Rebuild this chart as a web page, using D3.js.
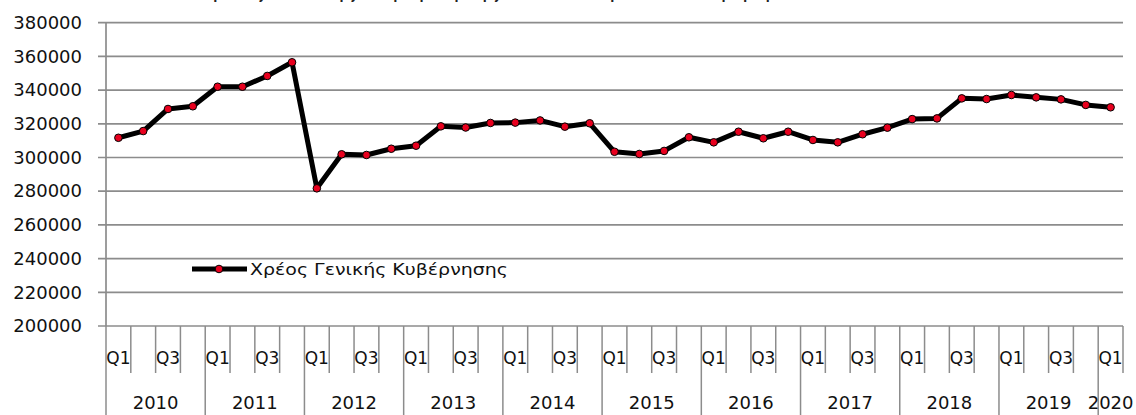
<!DOCTYPE html>
<html>
<head>
<meta charset="utf-8">
<script src="https://cdn.jsdelivr.net/npm/d3@7"></script>
<style>
  body { margin: 0; background: #fff; }
  svg { display: block; font-family: "DejaVu Sans", sans-serif; }
</style>
</head>
<body>
<div id="chart"></div>
<script>
const width = 1136;
const height = 415;

// data
const years = ['2010', '2011', '2012', '2013', '2014', '2015', '2016', '2017', '2018', '2019', '2020'];
const quarters = ['Q1', 'Q2', 'Q3', 'Q4'];
const shownQuarters = ['Q1', 'Q3'];
const lastYearQuarters = 1;
const yTicks = [200000, 220000, 240000, 260000, 280000, 300000, 320000, 340000, 360000, 380000];
const seriesName = 'Χρέος Γενικής Κυβέρνησης';
const debt = [
  311700, 315700, 328800, 330400,
  342000, 342000, 348400, 356500,
  281700, 301900, 301500, 305200,
  307000, 318500, 317800, 320500,
  320700, 322000, 318300, 320300,
  303400, 302100, 303900, 312000,
  309000, 315300, 311400, 315300,
  310400, 309000, 313800, 317700,
  322800, 323200, 335100, 334700,
  337100, 335700, 334500, 331200,
  329800
];

// build the category list (year + quarter)
const categories = [];
years.forEach((yr, yi) => {
  const qs = yi === years.length - 1 ? quarters.slice(0, lastYearQuarters) : quarters;
  qs.forEach((q) => categories.push({key: yr + '-' + q, year: yr, q: q}));
});
const points = categories.map((c, i) => ({...c, value: debt[i]}));

const plot = {left: 106, right: 1123, top: 22.7, bottom: 326};
const qTickBottom = 373;

const svg = d3.select('#chart').append('svg')
  .attr('width', width)
  .attr('height', height);

const x = d3.scaleBand()
  .domain(categories.map((c) => c.key))
  .range([plot.left, plot.right])
  .padding(0);

const y = d3.scaleLinear()
  .domain([200000, 380000])
  .range([plot.bottom, plot.top]);

// title (mostly cut off at the top edge, as in the source picture)
svg.append('text')
  .attr('x', 572)
  .attr('y', -2)
  .attr('text-anchor', 'middle')
  .attr('font-size', 18)
  .attr('textLength', 750)
  .attr('lengthAdjust', 'spacingAndGlyphs')
  .attr('fill', '#222')
  .text('Χρέος Γενικής Κυβέρνησης (εκατ. ευρώ) ανά τρίμηνο, 2010 - 2020');

// horizontal gridlines
svg.append('g').selectAll('line')
  .data(yTicks)
  .join('line')
  .attr('x1', plot.left - 8)
  .attr('x2', plot.right)
  .attr('y1', (d) => y(d))
  .attr('y2', (d) => y(d))
  .attr('stroke', '#8c8c8c')
  .attr('stroke-width', 1.7);

// y axis labels
const yaxis = d3.axisLeft(y)
  .tickValues(yTicks)
  .tickFormat(d3.format('d'))
  .tickSize(8)
  .tickPadding(16);
const g_yaxis = svg.append('g')
  .attr('transform', `translate(${plot.left},0)`)
  .call(yaxis);
g_yaxis.select('.domain').remove();
g_yaxis.selectAll('line').remove();
g_yaxis.selectAll('text')
  .attr('font-family', '"DejaVu Sans", sans-serif')
  .attr('font-size', 18)
  .attr('fill', '#111');

// value axis line
const axisColor = '#8c8c8c';
svg.append('line')
  .attr('x1', plot.left).attr('x2', plot.left)
  .attr('y1', plot.top).attr('y2', plot.bottom)
  .attr('stroke', axisColor)
  .attr('stroke-width', 1.7);

// category axis: quarter ticks and year boundaries
const gx = svg.append('g');
categories.forEach((c) => {
  const bx = x(c.key);
  const isYearStart = c.q === 'Q1';
  gx.append('line')
    .attr('x1', bx).attr('x2', bx)
    .attr('y1', plot.bottom)
    .attr('y2', isYearStart ? height : qTickBottom)
    .attr('stroke', axisColor)
    .attr('stroke-width', 1.5);
});
// right end of the category axis
gx.append('line')
  .attr('x1', plot.right).attr('x2', plot.right)
  .attr('y1', plot.bottom).attr('y2', qTickBottom)
  .attr('stroke', axisColor)
  .attr('stroke-width', 1.5);

// quarter labels
svg.append('g').selectAll('text')
  .data(categories.filter((c) => shownQuarters.includes(c.q)))
  .join('text')
  .attr('x', (d) => x(d.key) + x.bandwidth() / 2)
  .attr('y', 364)
  .attr('text-anchor', 'middle')
  .attr('font-size', 17)
  .attr('fill', '#111')
  .text((d) => d.q);

// year labels
const yearGroups = d3.groups(categories, (c) => c.year);
svg.append('g').selectAll('text')
  .data(yearGroups)
  .join('text')
  .attr('x', ([, cs]) => (x(cs[0].key) + x(cs[cs.length - 1].key) + x.bandwidth()) / 2)
  .attr('y', 409)
  .attr('text-anchor', 'middle')
  .attr('font-size', 18)
  .attr('fill', '#111')
  .text(([yr]) => yr);

// series line
const line = d3.line()
  .x((d) => x(d.key) + x.bandwidth() / 2)
  .y((d) => y(d.value));

svg.append('path')
  .datum(points)
  .attr('d', line)
  .attr('fill', 'none')
  .attr('stroke', '#000')
  .attr('stroke-width', 5)
  .attr('stroke-linejoin', 'round');

svg.append('g').selectAll('circle')
  .data(points)
  .join('circle')
  .attr('cx', (d) => x(d.key) + x.bandwidth() / 2)
  .attr('cy', (d) => y(d.value))
  .attr('r', 3.8)
  .attr('fill', '#e8001e')
  .attr('stroke', '#000')
  .attr('stroke-width', 1);

// legend
const legend = svg.append('g').attr('transform', 'translate(192,269)');
legend.append('line')
  .attr('x1', 0).attr('x2', 55)
  .attr('stroke', '#000')
  .attr('stroke-width', 5);
legend.append('circle')
  .attr('cx', 27).attr('r', 3.8)
  .attr('fill', '#e8001e')
  .attr('stroke', '#000');
legend.append('text')
  .attr('x', 58)
  .attr('y', 6)
  .attr('font-size', 16.5)
  .attr('textLength', 258)
  .attr('lengthAdjust', 'spacingAndGlyphs')
  .attr('fill', '#111')
  .text(seriesName);
</script>
</body>
</html>
